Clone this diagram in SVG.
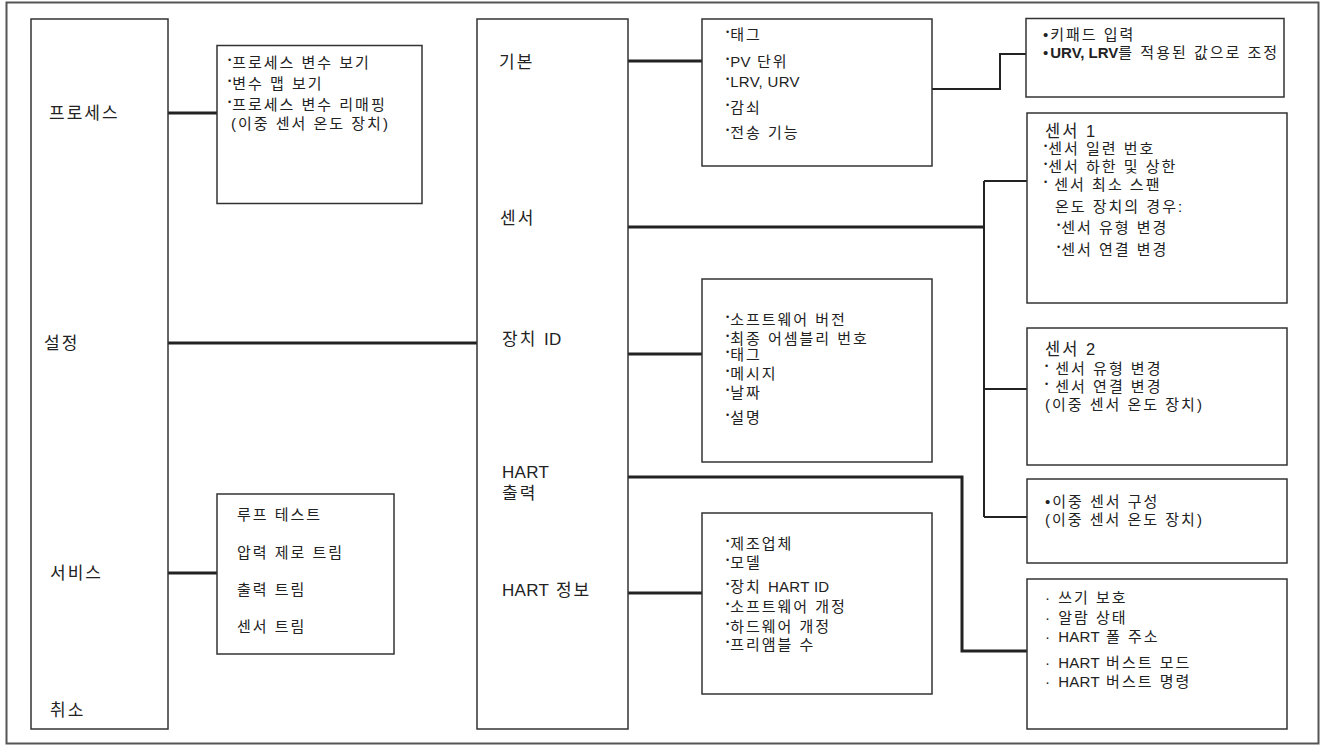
<svg xmlns="http://www.w3.org/2000/svg" width="1325" height="746" viewBox="0 0 1325 746">
<style>
text{font-family:"Liberation Sans","Noto Sans CJK KR",sans-serif;fill:#222;}
.m{font-size:17px;letter-spacing:2px;}
.s{font-size:15px;letter-spacing:2px;}
.l{letter-spacing:0.3px;}
.b{font-size:9px;letter-spacing:1px;}
.bx{fill:#fff;stroke:#333;stroke-width:1.5;}
.c{fill:none;stroke:#222;stroke-width:3;}
.c2{fill:none;stroke:#222;stroke-width:2;}
.bold{font-weight:bold;letter-spacing:0;}
</style>
<rect x="6.5" y="2.5" width="1312" height="741" fill="#fff" stroke="#555" stroke-width="2"/>
<g id="connectors">
<path class="c" d="M168 113H217"/>
<path class="c" d="M168 343H477"/>
<path class="c" d="M168 573H217"/>
<path class="c" d="M628 61H702"/>
<path class="c2" d="M932 89H1000V54H1026"/>
<path class="c" d="M628 227H984"/>
<path class="c2" d="M984 181V517"/>
<path class="c2" d="M984 181H1027M984 389H1027M984 517H1027"/>
<path class="c" d="M628 354H702"/>
<path class="c" d="M628 477H962V651H1027"/>
<path class="c" d="M628 593H702"/>
</g>
<g id="main-menu">
<rect class="bx" x="31" y="19" width="137" height="710"/>
<text class="m" x="49" y="119">프로세스</text>
<text class="m" x="44" y="349">설정</text>
<text class="m" x="50" y="579">서비스</text>
<text class="m" x="50" y="716">취소</text>
</g>
<g id="process-box">
<rect class="bx" x="217" y="45.5" width="205" height="158"/>
<text class="s" x="228" y="68"><tspan class="b" dy="-5">•</tspan><tspan dy="5">프로세스 변수 보기</tspan></text>
<text class="s" x="228" y="89"><tspan class="b" dy="-5">•</tspan><tspan dy="5">변수 맵 보기</tspan></text>
<text class="s" x="228" y="110"><tspan class="b" dy="-5">•</tspan><tspan dy="5">프로세스 변수 리매핑</tspan></text>
<text class="s" x="231" y="129">(이중 센서 온도 장치)</text>
</g>
<g id="service-box">
<rect class="bx" x="217" y="494" width="177" height="160"/>
<text class="s" x="237" y="520">루프 테스트</text>
<text class="s" x="237" y="558">압력 제로 트림</text>
<text class="s" x="237" y="595">출력 트림</text>
<text class="s" x="237" y="632">센서 트림</text>
</g>
<g id="setup-menu">
<rect class="bx" x="477" y="19" width="151" height="710"/>
<text class="m" x="499" y="68">기본</text>
<text class="m" x="500" y="224">센서</text>
<text class="m" x="502" y="345">장치 <tspan class="l">ID</tspan></text>
<text class="m" x="502" y="478"><tspan class="l">HART</tspan></text>
<text class="m" x="502" y="499">출력</text>
<text class="m" x="502" y="596"><tspan class="l">HART</tspan> 정보</text>
</g>
<g id="basic-box">
<rect class="bx" x="702" y="19" width="230" height="147"/>
<text class="s" x="726" y="40"><tspan class="b" dy="-5">•</tspan><tspan dy="5">태그</tspan></text>
<text class="s" x="726" y="67"><tspan class="b" dy="-5">•</tspan><tspan dy="5" class="l">PV</tspan> 단위</text>
<text class="s" x="726" y="87"><tspan class="b" dy="-5">•</tspan><tspan dy="5" class="l">LRV, URV</tspan></text>
<text class="s" x="726" y="113"><tspan class="b" dy="-5">•</tspan><tspan dy="5">감쇠</tspan></text>
<text class="s" x="726" y="138"><tspan class="b" dy="-5">•</tspan><tspan dy="5">전송 기능</tspan></text>
</g>
<g id="keypad-box">
<rect class="bx" x="1026" y="18.5" width="258" height="78.5"/>
<text class="s" x="1043" y="40">•키패드 입력</text>
<text class="s" x="1043" y="58">•<tspan class="bold">URV, LRV</tspan>를 적용된 값으로 조정</text>
</g>
<g id="sensor1-box">
<rect class="bx" x="1027" y="113" width="260" height="190"/>
<text class="m" x="1045" y="137" style="font-size:16.5px">센서 <tspan class="l">1</tspan></text>
<text class="s" x="1044" y="154"><tspan class="b" dy="-5">•</tspan><tspan dy="5">센서 일련 번호</tspan></text>
<text class="s" x="1044" y="172"><tspan class="b" dy="-5">•</tspan><tspan dy="5">센서 하한 및 상한</tspan></text>
<text class="s" x="1044" y="190"><tspan class="b" dy="-5">•</tspan><tspan dy="5"> 센서 최소 스팬</tspan></text>
<text class="s" x="1055" y="212">온도 장치의 경우:</text>
<text class="s" x="1057" y="233"><tspan class="b" dy="-5">•</tspan><tspan dy="5">센서 유형 변경</tspan></text>
<text class="s" x="1057" y="255"><tspan class="b" dy="-5">•</tspan><tspan dy="5">센서 연결 변경</tspan></text>
</g>
<g id="sensor2-box">
<rect class="bx" x="1027" y="328" width="260" height="137"/>
<text class="m" x="1045" y="355" style="font-size:16.5px">센서 <tspan class="l">2</tspan></text>
<text class="s" x="1045" y="374"><tspan class="b" dy="-5">•</tspan><tspan dy="5">  센서 유형 변경</tspan></text>
<text class="s" x="1045" y="392"><tspan class="b" dy="-5">•</tspan><tspan dy="5"> 센서 연결 변경</tspan></text>
<text class="s" x="1045" y="410">(이중 센서 온도 장치)</text>
</g>
<g id="dual-box">
<rect class="bx" x="1027" y="479" width="260" height="84"/>
<text class="s" x="1045" y="507">•이중 센서 구성</text>
<text class="s" x="1045" y="525">(이중 센서 온도 장치)</text>
</g>
<g id="device-id-box">
<rect class="bx" x="702" y="279" width="230" height="183"/>
<text class="s" x="726" y="325"><tspan class="b" dy="-5">•</tspan><tspan dy="5">소프트웨어 버전</tspan></text>
<text class="s" x="726" y="344"><tspan class="b" dy="-5">•</tspan><tspan dy="5">최종 어셈블리 번호</tspan></text>
<text class="s" x="726" y="360"><tspan class="b" dy="-5">•</tspan><tspan dy="5">태그</tspan></text>
<text class="s" x="726" y="379"><tspan class="b" dy="-5">•</tspan><tspan dy="5">메시지</tspan></text>
<text class="s" x="726" y="398"><tspan class="b" dy="-5">•</tspan><tspan dy="5">날짜</tspan></text>
<text class="s" x="726" y="423"><tspan class="b" dy="-5">•</tspan><tspan dy="5">설명</tspan></text>
</g>
<g id="hart-info-box">
<rect class="bx" x="702" y="513" width="230" height="181"/>
<text class="s" x="726" y="549"><tspan class="b" dy="-5">•</tspan><tspan dy="5">제조업체</tspan></text>
<text class="s" x="726" y="568"><tspan class="b" dy="-5">•</tspan><tspan dy="5">모델</tspan></text>
<text class="s" x="726" y="592"><tspan class="b" dy="-5">•</tspan><tspan dy="5">장치 </tspan><tspan class="l">HART ID</tspan></text>
<text class="s" x="726" y="612"><tspan class="b" dy="-5">•</tspan><tspan dy="5">소프트웨어 개정</tspan></text>
<text class="s" x="726" y="632"><tspan class="b" dy="-5">•</tspan><tspan dy="5">하드웨어 개정</tspan></text>
<text class="s" x="726" y="650"><tspan class="b" dy="-5">•</tspan><tspan dy="5">프리앰블 수</tspan></text>
</g>
<g id="hart-output-box">
<rect class="bx" x="1027" y="579" width="260" height="150"/>
<text class="s" x="1045" y="603">· 쓰기 보호</text>
<text class="s" x="1045" y="623">· 알람 상태</text>
<text class="s" x="1045" y="642">· <tspan class="l">HART</tspan> 폴 주소</text>
<text class="s" x="1045" y="668">· <tspan class="l">HART</tspan> 버스트 모드</text>
<text class="s" x="1045" y="687">· <tspan class="l">HART</tspan> 버스트 명령</text>
</g>
</svg>
